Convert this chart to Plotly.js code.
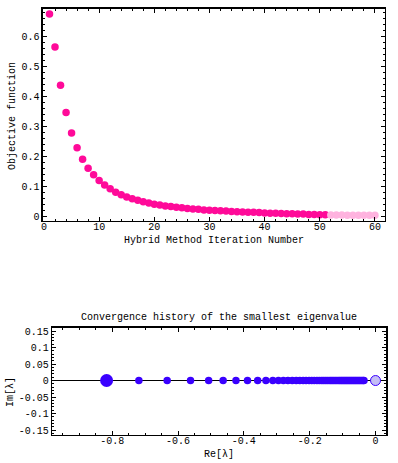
<!DOCTYPE html>
<html><head><meta charset="utf-8">
<script src="https://cdn.plot.ly/plotly-3.0.1.min.js"></script>
<style>html,body{margin:0;padding:0;background:#fff}#c{width:398px;height:463px}</style>
</head><body><div id="c"></div>
<script>
// Objective function per hybrid-method iteration
const iterMain = [1,2,3,4,5,6,7,8,9,10,11,12,13,14,15,16,17,18,19,20,21,22,23,24,25,26,27,28,29,30,31,32,33,34,35,36,37,38,39,40,41,42,43,44,45,46,47,48,49,50,51];
const objMain = [0.675,0.565,0.438,0.347,0.279,0.230,0.192,0.162,0.140,0.121,0.106,0.093,0.082,0.073,0.066,0.060,0.055,0.050,0.046,0.042,0.039,0.036,0.034,0.032,0.030,0.028,0.026,0.025,0.023,0.022,0.021,0.020,0.019,0.018,0.017,0.016,0.015,0.015,0.014,0.013,0.012,0.012,0.011,0.010,0.010,0.009,0.009,0.008,0.008,0.007,0.007];
const iterTail = [52,53,54,55,56,57,58,59,60];
const objTail = [0.006,0.006,0.006,0.005,0.005,0.005,0.005,0.005,0.005];
// Smallest eigenvalue history
const eigFirstRe = [-0.817];
const eigFirstIm = [0];
const eigRe = [-0.719,-0.633,-0.562,-0.507,-0.463,-0.424,-0.389,-0.358,-0.333,-0.312,-0.295,-0.280,-0.266,-0.253,-0.241,-0.230,-0.220,-0.211,-0.202,-0.194,-0.186,-0.178,-0.171,-0.164,-0.158,-0.152,-0.146,-0.140,-0.135,-0.130,-0.125,-0.120,-0.115,-0.110,-0.106,-0.102,-0.098,-0.094,-0.090,-0.086,-0.082,-0.078,-0.074,-0.070,-0.066,-0.062,-0.058,-0.054,-0.050,-0.046,-0.042,-0.038,-0.035];
const eigIm = eigRe.map(()=>0);
const eigFinalRe = [0.0];
const eigFinalIm = [0];

const texts = {
  yTop: "Objective function",
  xTop: "Hybrid Method Iteration Number",
  title2: "Convergence history of the smallest eigenvalue",
  x2: "Re[\u03bb]",
  y2: "Im[\u03bb]"
};
const topXTicks = [0,10,20,30,40,50,60];
const topYTicks = [0,0.1,0.2,0.3,0.4,0.5,0.6];
const botXTicks = [-0.8,-0.6,-0.4,-0.2,0];
const botYTicks = [-0.15,-0.1,-0.05,0,0.05,0.1,0.15];

const F = {family: "Liberation Mono, DejaVu Sans Mono, monospace", size: 10, color: "#000"};
const pink = "#ff0a99", lightPink = "#ffb3df", blue = "#3a00ff", lav = "#c4bdf5";

const traces = [
  {x: iterMain, y: objMain, xaxis: "x", yaxis: "y", mode: "markers", type: "scatter",
   marker: {color: pink, size: 7.5}, hoverinfo: "skip"},
  {x: iterTail, y: objTail, xaxis: "x", yaxis: "y", mode: "markers", type: "scatter",
   marker: {color: lightPink, size: 7.5}, hoverinfo: "skip"},
  {x: eigRe, y: eigIm, xaxis: "x2", yaxis: "y2", mode: "markers", type: "scatter",
   marker: {color: blue, size: 7.5}, hoverinfo: "skip"},
  {x: eigFirstRe, y: eigFirstIm, xaxis: "x2", yaxis: "y2", mode: "markers", type: "scatter",
   marker: {color: blue, size: 13}, hoverinfo: "skip"},
  {x: eigFinalRe, y: eigFinalIm, xaxis: "x2", yaxis: "y2", mode: "markers", type: "scatter",
   marker: {color: lav, size: 10, line: {color: blue, width: 1}}, hoverinfo: "skip"}
];

const axBase = {showgrid: false, zeroline: false, showline: true, linecolor: "#000", linewidth: 1.5,
  mirror: "ticks", ticks: "inside", ticklen: 4, tickcolor: "#000", tickwidth: 1, tickfont: F};

const layout = {
  width: 398, height: 463, showlegend: false,
  paper_bgcolor: "#fff", plot_bgcolor: "#fff",
  margin: {l: 0, r: 0, t: 0, b: 0},
  font: F,
  xaxis: Object.assign({}, axBase, {domain: [0.108, 0.967], range: [-0.18, 61.8], anchor: "y",
    ticklabelstandoff: -4,
    tickvals: topXTicks, ticktext: topXTicks.map(String),
    minor: {ticks: "inside", ticklen: 2, dtick: 2, tickcolor: "#000"}}),
  yaxis: Object.assign({}, axBase, {domain: [0.5227, 0.9806], range: [-0.014, 0.692], anchor: "x",
    ticklabelstandoff: 0,
    tickvals: topYTicks, ticktext: topYTicks.map(v => v === 0 ? "0" : String(v)),
    minor: {ticks: "inside", ticklen: 2, dtick: 0.02, tickcolor: "#000"}}),
  xaxis2: Object.assign({}, axBase, {domain: [0.1314, 0.970], range: [-0.982, 0.032], anchor: "y2",
    ticklabelstandoff: -4,
    tickvals: botXTicks, ticktext: botXTicks.map(v => v === 0 ? "0" : String(v)),
    minor: {ticks: "inside", ticklen: 2, dtick: 0.05, tickcolor: "#000"}}),
  yaxis2: Object.assign({}, axBase, {domain: [0.0605, 0.2922], range: [-0.165, 0.16], anchor: "x2",
    ticklabelstandoff: 0,
    zeroline: true, zerolinecolor: "#000", zerolinewidth: 1.2,
    tickvals: botYTicks, ticktext: botYTicks.map(v => v === 0 ? "0" : String(v)),
    minor: {ticks: "inside", ticklen: 2, dtick: 0.01, tickcolor: "#000"}}),
  annotations: [
    {text: texts.yTop, xref: "paper", yref: "paper", x: 13/398, y: 1 - 116/463, textangle: -90,
     showarrow: false, font: F, xanchor: "center", yanchor: "middle"},
    {text: texts.xTop, xref: "paper", yref: "paper", x: 214/398, y: 1 - 241/463,
     showarrow: false, font: F, xanchor: "center", yanchor: "middle"},
    {text: texts.title2, xref: "paper", yref: "paper", x: 219/398, y: 1 - 317/463,
     showarrow: false, font: F, xanchor: "center", yanchor: "middle"},
    {text: texts.x2, xref: "paper", yref: "paper", x: 219/398, y: 1 - 454/463,
     showarrow: false, font: F, xanchor: "center", yanchor: "middle"},
    {text: texts.y2, xref: "paper", yref: "paper", x: 10/398, y: 1 - 392/463, textangle: -90,
     showarrow: false, font: F, xanchor: "center", yanchor: "middle"}
  ]
};

Plotly.newPlot("c", traces, layout, {staticPlot: true, displayModeBar: false});
</script></body></html>
